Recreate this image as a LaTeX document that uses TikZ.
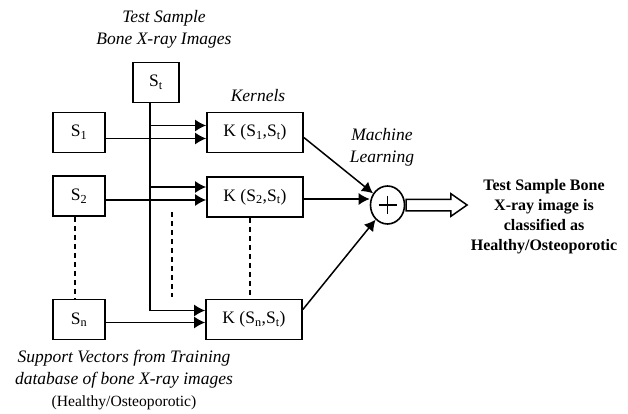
\documentclass[tikz,border=0pt]{standalone}
\usepackage{fontspec}
\setmainfont{Liberation Serif}
\usetikzlibrary{arrows.meta,shapes.geometric,shapes.arrows}

\tikzset{
  box/.style={draw,line width=1.7pt,minimum height=40pt,inner sep=0pt,
    font=\fontsize{17.5}{21}\selectfont},
  sbox/.style={box,minimum width=52pt},
  kbox/.style={box,minimum width=96pt},
  lab/.style={align=center,font=\fontsize{17.5}{22}\selectfont\itshape},
  arr/.style={line width=1.5pt,-{Latex[length=11pt,width=12pt]}},
  dots/.style={line width=1.4pt,dash pattern=on 5pt off 4pt},
}

\begin{document}
\begin{tikzpicture}[x=1pt,y=-1pt] % 1 unit = 1 px of the figure
\useasboundingbox (0,0) rectangle (628,414);

% --------- PARAMETERS ----------
\def\xs{79}       % x of the support vector boxes
\def\xk{255}      % x of the kernel boxes
\def\yone{132.5}  % row 1
\def\ytwo{196}    % row 2
\def\yn{319.5}    % row n
% --------------------------------

% Test sample
\node[lab] (title) at (164,29) {Test Sample\\Bone X-ray Images};
\node[box,minimum width=46pt] (st) at (156,82.5) {S\textsubscript{t}};

% Support vectors
\node[sbox] (s1) at (\xs,\yone) {S\textsubscript{1}};
\node[sbox] (s2) at (\xs,\ytwo) {S\textsubscript{2}};
\node[sbox] (sn) at (\xs,\yn) {S\textsubscript{n}};
\node[align=center,font=\fontsize{17.5}{22}\selectfont] (sv) at (124,380)
  {\itshape Support Vectors from Training\\
   \itshape database of bone X-ray images\\
   {\fontsize{15.6}{18}\selectfont (Healthy/Osteoporotic)}};

% Kernels
\node[lab] (kern) at (258,96) {Kernels};
\node[kbox] (k1) at (\xk,\yone) {K (S\textsubscript{1},S\textsubscript{t})};
\node[kbox] (k2) at (\xk,\ytwo+1) {K (S\textsubscript{2},S\textsubscript{t})};
\node[kbox] (kn) at (\xk-1,\yn) {K (S\textsubscript{n},S\textsubscript{t})};

% Sum
\node[lab] (ml) at (382,147.5) {Machine\\Learning};
\node[draw,ellipse,line width=1.6pt,minimum width=34pt,minimum height=38pt,
  inner sep=0pt,
  path picture={\draw[line width=1.4pt]
    ([xshift=-9pt]path picture bounding box.center) -- ++(18,0)
    ([yshift=-9pt]path picture bounding box.center) -- ++(0,-18);}]
  (sum) at (387.5,205) {};

% Output
\node[draw,single arrow,line width=1.5pt,inner sep=0pt,inner ysep=5pt,
  minimum height=61pt,single arrow head extend=5.5pt,
  single arrow tip angle=70,anchor=tail] (out) at (sum.east) {};
\node[align=center,font=\fontsize{16}{20}\selectfont\bfseries] (res) at (544,216.5)
  {Test Sample Bone\\X-ray image is\\classified as\\Healthy/Osteoporotic};

% Test sample line to every kernel
\coordinate (vl) at ([xshift=-6pt]st.south);
\draw[arr] (vl) |- ([yshift=9pt]kn.west);
\draw[arr] ([yshift=7pt]k1.west -| vl) -- ([yshift=7pt]k1.west);
\draw[arr] ([yshift=10pt]k2.west -| vl) -- ([yshift=10pt]k2.west);

% Support vectors to kernels
\draw[arr] ([yshift=-6pt]s1.east) -- ([yshift=-6pt]s1.east -| k1.west);
\draw[arr] ([yshift=-4pt]s2.east) -- ([yshift=-4pt]s2.east -| k2.west);
\draw[arr] ([yshift=-3pt]sn.east) -- ([yshift=-3pt]sn.east -| kn.west);

% Kernels to sum
\draw[arr] ([yshift=-5pt]k1.east) -- (sum);
\draw[arr] ([yshift=-2pt]k2.east) -- ([yshift=-2pt]k2.east -| sum.west);
\draw[arr] ([yshift=10pt]kn.east) -- (sum);

% Dots
\draw[dots] ([xshift=-4pt]s2.south) -- ([xshift=-4pt]sn.north);
\draw[dots] ([xshift=-5pt]k2.south) -- ([xshift=-4pt]kn.north);
\coordinate (dtop) at (172,212);
\coordinate (dbot) at (172,297);
\draw[dots] (dtop) -- (dbot);

\end{tikzpicture}
\end{document}
